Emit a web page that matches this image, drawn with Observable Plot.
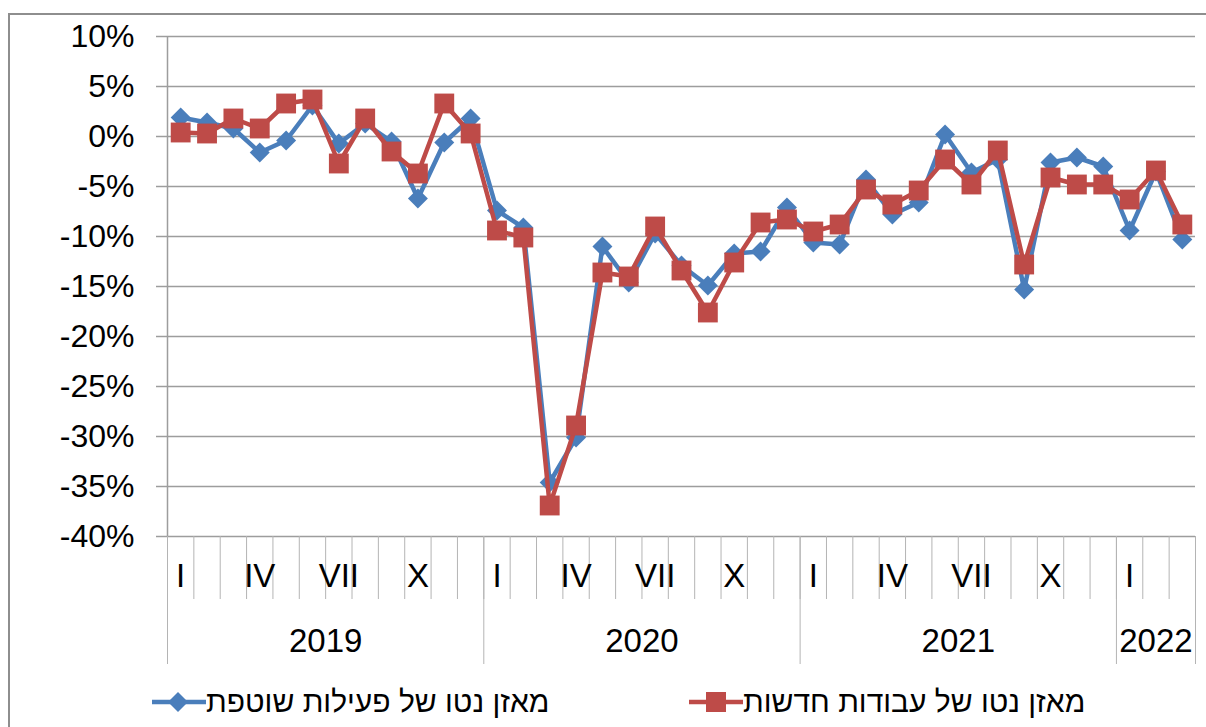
<!DOCTYPE html>
<html><head><meta charset="utf-8">
<script src="https://cdn.jsdelivr.net/npm/d3@7"></script>
<script src="https://cdn.jsdelivr.net/npm/@observablehq/plot@0.6"></script>
<style>
body{margin:0;background:#fff;font-family:"Liberation Sans",Arial,sans-serif;}
#wrap{position:relative;width:1206px;height:727px;overflow:hidden;}
#frame{position:absolute;left:8px;top:13px;width:1300px;height:800px;border:2px solid #8e8e8e;pointer-events:none;}
#legend{position:relative;height:55px;}
.item{position:absolute;top:12px;height:36px;display:flex;align-items:center;font-size:30px;color:#000;white-space:nowrap;}
.item span{direction:rtl;}
</style></head>
<body>
<div id="wrap"><div id="frame"></div><div id="chart"></div><div id="legend"></div></div>
<script>
const seriesNames = ["מאזן נטו של פעילות שוטפת", "מאזן נטו של עבודות חדשות"];
const years = ["2019", "2020", "2021", "2022"];
const monthsPerYear = [12, 12, 12, 3];
const monthLabels = ["I", "", "", "IV", "", "", "VII", "", "", "X", "", ""];
const yTicks = [10, 5, 0, -5, -10, -15, -20, -25, -30, -35, -40];
const currentActivity = [1.9, 1.4, 0.8, -1.6, -0.4, 3.1, -0.7, 1.3, -0.5, -6.2, -0.6, 1.8,
  -7.4, -9.1, -34.6, -30.1, -11.0, -14.6, -9.7, -12.9, -14.9, -11.7, -11.5, -7.1,
  -10.6, -10.8, -4.3, -7.8, -6.6, 0.2, -3.6, -2.3, -15.3, -2.6, -2.1, -3.0, -9.4, -3.5, -10.3];
const newWork = [0.4, 0.3, 1.8, 0.8, 3.3, 3.7, -2.7, 1.8, -1.5, -3.7, 3.3, 0.3,
  -9.4, -10.1, -36.9, -28.9, -13.6, -14.0, -9.0, -13.4, -17.6, -12.6, -8.6, -8.3,
  -9.5, -8.8, -5.3, -6.8, -5.4, -2.3, -4.8, -1.4, -12.8, -4.1, -4.8, -4.8, -6.3, -3.4, -8.8];

const blueC = "#4A7EBB", redC = "#BE4B48", gridC = "#9d9d9d";
const nMonths = currentActivity.length;
const rows = currentActivity.map((v, i) => ({t: i + 0.5, a: v, b: newWork[i]}));
const monthBounds = d3.range(0, nMonths + 1);
const monthCenters = d3.range(0, nMonths).map(i => i + 0.5);
const yearStarts = [];
let acc = 0;
monthsPerYear.forEach(c => { yearStarts.push(acc); acc += c; });
const yearBounds = [...yearStarts, acc];
const yearCenters = yearStarts.map((s, k) => s + monthsPerYear[k] / 2);
const font = "Liberation Sans, Arial, sans-serif";

const chart = Plot.plot({
  width: 1206, height: 672,
  marginTop: 36, marginBottom: 136, marginLeft: 167, marginRight: 11,
  x: {domain: [0, nMonths], axis: null},
  y: {domain: [-40, 10], axis: null},
  style: {fontFamily: font, background: "transparent", overflow: "visible", color: "#000"},
  marks: [
    Plot.ruleY(yTicks, {stroke: gridC, strokeWidth: 1.5}),
    Plot.axisY({ticks: yTicks, tickSize: 11, tickPadding: 22, tickFormat: d => d + "%", fontSize: 32, stroke: gridC, strokeWidth: 1.5, fill: "#000", label: null}),
    Plot.ruleX([0], {stroke: gridC, strokeWidth: 1.5}),
    Plot.axisX({ticks: monthBounds, tickSize: 63, tickFormat: () => "", stroke: "#b4b4b4", strokeWidth: 1, label: null}),
    Plot.axisX({ticks: yearBounds, tickSize: 128, tickFormat: () => "", stroke: "#b4b4b4", strokeWidth: 1, label: null}),
    Plot.axisX({ticks: monthCenters, tickSize: 0, tickPadding: 27, tickFormat: d => monthLabels[Math.floor(d) % 12], fontSize: 33, fill: "#000", label: null}),
    Plot.axisX({ticks: yearCenters, tickSize: 0, tickPadding: 92, tickFormat: d => years[yearCenters.indexOf(d)], fontSize: 33, fill: "#000", label: null}),
    Plot.line(rows, {x: "t", y: "a", stroke: blueC, strokeWidth: 4.5}),
    Plot.dot(rows, {x: "t", y: "a", symbol: "diamond2", r: 9, fill: blueC, stroke: "none"}),
    Plot.line(rows, {x: "t", y: "b", stroke: redC, strokeWidth: 4.5}),
    Plot.dot(rows, {x: "t", y: "b", symbol: "square", r: 11.2, fill: redC, stroke: "none"})
  ]
});
document.getElementById("chart").appendChild(chart);

const legend = document.getElementById("legend");
const items = [
  {name: seriesNames[0], color: blueC, left: 152, shape: "diamond"},
  {name: seriesNames[1], color: redC, left: 689, shape: "square"}
];
items.forEach(it => {
  const div = document.createElement("div");
  div.className = "item";
  div.style.left = it.left + "px";
  const mark = it.shape === "diamond"
    ? `<polygon points="26,8 36,18 26,28 16,18" fill="${it.color}"/>`
    : `<rect x="17" y="8" width="20" height="20" fill="${it.color}"/>`;
  div.innerHTML = `<svg width="54" height="36"><line x1="0" y1="18" x2="54" y2="18" stroke="${it.color}" stroke-width="4.5"/>${mark}</svg><span>${it.name}</span>`;
  legend.appendChild(div);
});
</script>
</body></html>
